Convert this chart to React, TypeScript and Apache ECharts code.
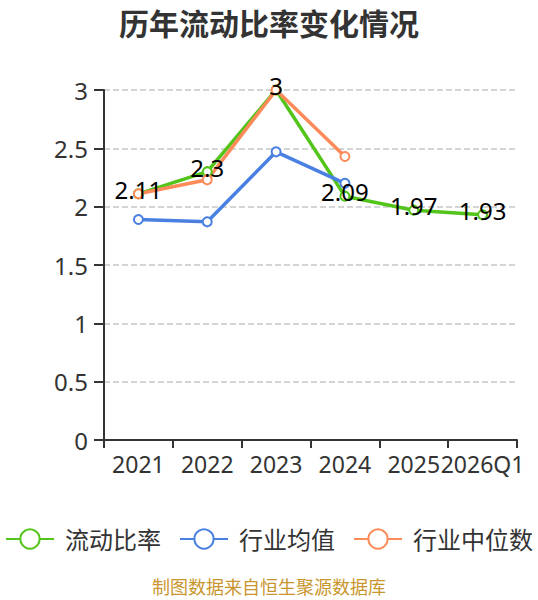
import React, { useEffect, useRef } from "react";
import * as echarts from "echarts";

const categories = ["2021", "2022", "2023", "2024", "2025", "2026Q1"];
const currentRatio = [2.11, 2.3, 3.0, 2.09, 1.97, 1.93];
const industryMean = [1.89, 1.87, 2.47, 2.2, null, null];
const industryMedian = [2.11, 2.23, 3.0, 2.43, null, null];
const yTicks = { min: 0, max: 3, interval: 0.5 };

const FONT = "'Noto Sans', 'Noto Sans CJK SC', sans-serif";

export default function App() {
  const ref = useRef<HTMLDivElement>(null);
  useEffect(() => {
    document.body.style.margin = "0";
    if (!ref.current) return;
    const chart = echarts.init(ref.current, undefined, { renderer: "svg" });
    const mk = (name: string, data: any[], color: string, label: boolean) => ({
      name,
      type: "line",
      data,
      symbol: "emptyCircle",
      symbolSize: 9,
      lineStyle: { color, width: 3.5 },
      itemStyle: { color, borderWidth: 2 },
      label: label
        ? {
            show: true,
            position: "top",
            distance: -13,
            color: "#000",
            fontSize: 24,
            fontFamily: FONT,
          }
        : { show: false },
    });
    chart.setOption({
      animation: false,
      textStyle: { fontFamily: FONT },
      title: {
        text: "历年流动比率变化情况",
        left: "center",
        top: 3,
        textStyle: { fontSize: 30, fontWeight: "bold", color: "#333", fontFamily: FONT },
      },
      grid: { left: 104, right: 21, top: 90, bottom: 160 },
      xAxis: {
        type: "category",
        data: categories,
        boundaryGap: true,
        axisLine: { lineStyle: { color: "#333", width: 2 } },
        axisTick: { show: true, length: 8, lineStyle: { color: "#333", width: 2 } },
        axisLabel: { color: "#333", fontSize: 23, margin: 12, interval: 0, fontFamily: FONT },
      },
      yAxis: {
        type: "value",
        min: yTicks.min,
        max: yTicks.max,
        interval: yTicks.interval,
        axisLine: { show: true, lineStyle: { color: "#333", width: 2 } },
        axisTick: { show: true, length: 10, lineStyle: { color: "#333", width: 2 } },
        axisLabel: { color: "#333", fontSize: 24, margin: 16, fontFamily: FONT },
        splitLine: { lineStyle: { type: "dashed", color: "#c8c8c8", width: 1.5 } },
      },
      legend: {
        bottom: 44,
        left: "center",
        itemWidth: 48,
        itemHeight: 24,
        itemGap: 18,
        textStyle: { fontSize: 24, color: "#333", padding: [0, 0, 0, 6], fontFamily: FONT },
        data: ["流动比率", "行业均值", "行业中位数"],
      },
      graphic: [
        {
          type: "text",
          left: "center",
          top: 578,
          style: { text: "制图数据来自恒生聚源数据库", fill: "#c9962e", fontSize: 18, fontFamily: FONT },
        },
      ],
      series: [
        mk("流动比率", currentRatio, "#52c41a", true),
        mk("行业均值", industryMean, "#4a80e2", false),
        mk("行业中位数", industryMedian, "#fd8b5a", false),
      ],
    });
    return () => chart.dispose();
  }, []);
  return <div ref={ref} style={{ width: 538, height: 600 }} />;
}
